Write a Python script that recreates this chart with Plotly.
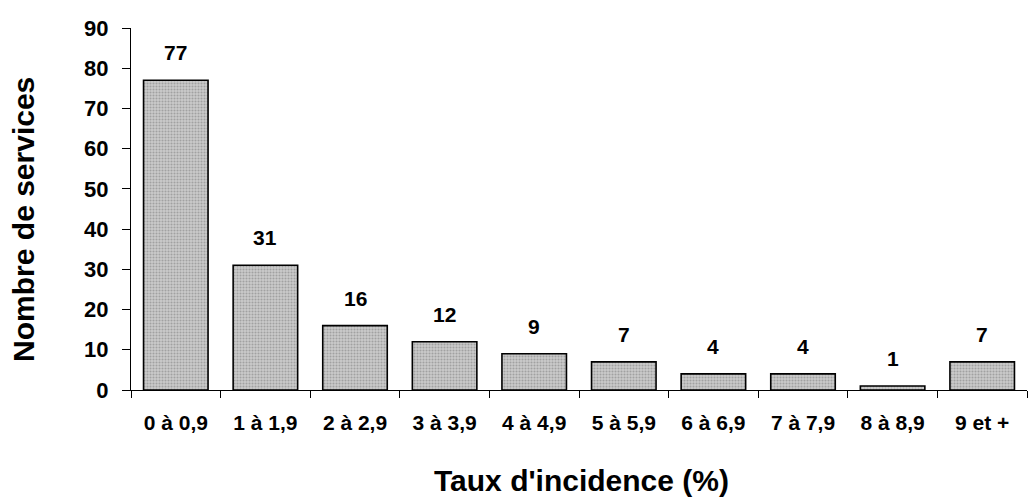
import plotly.graph_objects as go

categories = ["0 à 0,9", "1 à 1,9", "2 à 2,9", "3 à 3,9", "4 à 4,9",
              "5 à 5,9", "6 à 6,9", "7 à 7,9", "8 à 8,9", "9 et +"]
services = [77, 31, 16, 12, 9, 7, 4, 4, 1, 7]
y_ticks = [0, 10, 20, 30, 40, 50, 60, 70, 80, 90]

FONT = "Liberation Sans, Arial, sans-serif"

fig = go.Figure()
fig.add_trace(go.Bar(
    x=categories,
    y=services,
    width=0.72,
    marker=dict(
        color="#bdbdbd",
        line=dict(color="black", width=1.6),
        pattern=dict(shape=".", fgcolor="#777777", bgcolor="#cbcbcb",
                     size=3, solidity=0.4),
    ),
    hoverinfo="skip",
))

# value labels above each bar
for c, v in zip(categories, services):
    fig.add_annotation(x=c, y=v, text=f"<b>{v}</b>", showarrow=False,
                       yanchor="bottom", yshift=14,
                       font=dict(family=FONT, size=21, color="black"))

# axis titles
fig.add_annotation(xref="paper", yref="paper", x=0.503, y=-0.251,
                   xanchor="center", yanchor="middle", showarrow=False,
                   text="<b>Taux d'incidence (%)</b>",
                   font=dict(family=FONT, size=30, color="black"))
fig.add_annotation(xref="paper", yref="paper", x=-0.1194, y=0.47,
                   xanchor="center", yanchor="middle", showarrow=False,
                   textangle=-90,
                   text="<b>Nombre de services</b>",
                   font=dict(family=FONT, size=30, color="black"))

fig.update_layout(
    width=1029, height=499,
    margin=dict(l=131, r=2, t=28, b=109),
    paper_bgcolor="white", plot_bgcolor="white",
    showlegend=False,
    font=dict(family=FONT, color="black"),
    xaxis=dict(
        type="category",
        tickvals=categories,
        ticktext=[f"<b>{c}</b>" for c in categories],
        showline=True, linecolor="black", linewidth=1,
        ticks="outside", tickson="boundaries", ticklen=7,
        tickcolor="black", tickwidth=1,
        ticklabelstandoff=14,
        tickfont=dict(family=FONT, size=21, color="black"),
        showgrid=False,
    ),
    yaxis=dict(
        range=[0, 90],
        tickvals=y_ticks,
        ticktext=[f"<b>{t}</b>" for t in y_ticks],
        showline=True, linecolor="black", linewidth=1,
        ticks="outside", ticklen=8, tickcolor="black", tickwidth=1,
        ticklabelstandoff=9,
        tickfont=dict(family=FONT, size=22, color="black"),
        showgrid=False, zeroline=False,
    ),
)

fig.write_html("out.html")
